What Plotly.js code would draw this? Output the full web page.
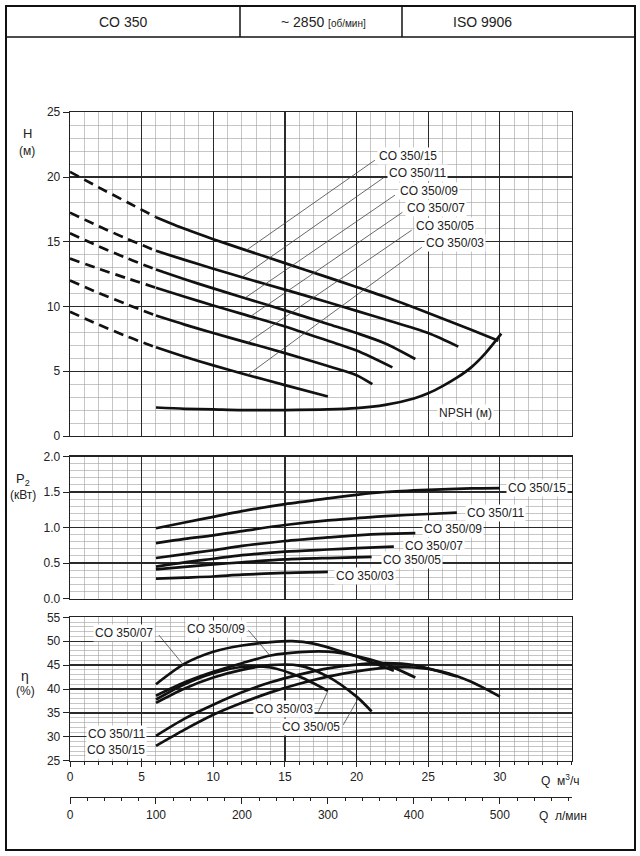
<!DOCTYPE html>
<html><head><meta charset="utf-8">
<script src="https://cdn.plot.ly/plotly-3.0.1.min.js"></script>
<style>html,body{margin:0;padding:0;background:#fff}#chart{width:640px;height:856px}</style>
</head><body><div id="chart"></div>
<script>
// ---------------- DATA ----------------
const models = ['CO 350/15','CO 350/11','CO 350/09','CO 350/07','CO 350/05','CO 350/03'];

// Head H (m) vs Q (m3/h)
const hQ15 = [0,2,4,6,8,10,12,15,18,20,22,25,28,29.9];
const hH15 = [20.4,19.2,18.05,16.9,16.0,15.2,14.45,13.35,12.25,11.5,10.75,9.5,8.2,7.35];
const hQ11 = [0,2,4,6,8,10,12,15,18,20,22,25,27.1];
const hH11 = [17.25,16.2,15.22,14.3,13.6,12.92,12.26,11.3,10.33,9.66,9.0,7.95,6.9];
const hQ09 = [0,2,4,6,8,10,12,15,18,20,22,24.1];
const hH09 = [15.65,14.65,13.72,12.85,12.1,11.4,10.72,9.7,8.65,7.95,7.15,5.95];
const hQ07 = [0,2,4,6,8,10,12,15,18,20,22.5];
const hH07 = [13.7,12.92,12.17,11.45,10.75,10.08,9.43,8.45,7.35,6.6,5.3];
const hQ05 = [0,2,4,6,8,10,12,15,18,20,21.1];
const hH05 = [12.0,11.05,10.15,9.3,8.6,7.95,7.33,6.4,5.4,4.7,4.0];
const hQ03 = [0,2,4,6,8,10,12,15,18];
const hH03 = [9.6,8.6,7.68,6.85,6.12,5.45,4.83,3.93,3.05];
const npshQ = [6,8,10,12,15,18,20,22,24,25,26,27,28,29,30.1];
const npshH = [2.2,2.1,2.05,2.0,2.0,2.05,2.15,2.4,2.9,3.3,3.85,4.5,5.3,6.4,7.9];

// Power P2 (kW)
const pQ15 = [6,8,10,12,15,18,20,22,25,28,30];
const pP15 = [0.99,1.07,1.15,1.23,1.33,1.41,1.46,1.50,1.53,1.55,1.555];
const pQ11 = [6,8,10,12,15,18,20,22,25,27];
const pP11 = [0.78,0.84,0.89,0.95,1.035,1.10,1.13,1.16,1.19,1.21];
const pQ09 = [6,8,10,12,15,18,20,22,24.1];
const pP09 = [0.57,0.625,0.68,0.74,0.81,0.86,0.89,0.91,0.92];
const pQ07 = [6,8,10,12,15,18,20,22.6];
const pP07 = [0.45,0.51,0.56,0.61,0.66,0.69,0.71,0.73];
const pQ05 = [6,8,10,12,15,18,21.05];
const pP05 = [0.41,0.445,0.48,0.51,0.55,0.57,0.585];
const pQ03 = [6,8,10,12,15,18];
const pP03 = [0.28,0.295,0.31,0.335,0.36,0.375];

// Efficiency eta (%)
const eQ15 = [6,8,10,12,14,16,18,20,22,24,26,28,30];
const eE15 = [28.1,31.5,34.6,37.1,39.3,41.1,42.6,43.7,44.4,44.5,43.6,41.5,38.4];
const eQ11 = [6,8,10,12,14,16,18,20,22,24,27];
const eE11 = [30.2,33.8,36.7,39.3,41.4,43.0,44.3,45.1,45.4,45.0,42.6];
const eQ09 = [6,8,10,12,14,16,18,20,22,24.1];
const eE09 = [38.6,41.4,43.6,45.4,47.0,47.7,47.8,46.9,45.2,42.4];
const eQ07 = [6,8,10,12,14,15.5,17,19,20,22.6];
const eE07 = [41.0,45.3,47.8,49.1,49.8,50.0,49.5,47.8,46.8,43.8];
const eQ05 = [6,8,10,12,14,16,18,20,21.05];
const eE05 = [37.1,40.1,42.4,44.0,45.0,44.9,42.6,38.4,35.3];
const eQ03 = [6,8,10,12,14,16,18];
const eE03 = [37.8,41.0,43.3,44.6,44.5,42.6,39.6];

// Tick labels
const qTicks = [0,5,10,15,20,25,30];
const lminTicks = [0,100,200,300,400,500];
const hTicks = [0,5,10,15,20,25];
const pTicks = [0,0.5,1.0,1.5,2.0];
const eTicks = [25,30,35,40,45,50,55];

// ---------------- LAYOUT HELPERS ----------------
const W = 640, Ht = 856;
const fx = p => p / W;
const fy = p => 1 - p / Ht;
const FONT = 'Liberation Sans, Arial, sans-serif';
const TXT = '#222';
const xDom = [fx(70), fx(571.5)];

function interp(xs, ys, x) {
  for (let i = 0; i < xs.length - 1; i++) {
    if (x >= xs[i] && x <= xs[i+1]) {
      const t = (x - xs[i]) / (xs[i+1] - xs[i]);
      return ys[i] + t * (ys[i+1] - ys[i]);
    }
  }
  return ys[ys.length-1];
}

const LW = 2.7;
const traces = [];
const lineCurve = (x, y, xa, ya, dash) => ({
  type: 'scatter', mode: 'lines', x, y, xaxis: xa, yaxis: ya,
  line: {color: '#111', width: LW, shape: 'spline', smoothing: 0.8, dash: dash || 'solid'},
  hoverinfo: 'skip'
});

// H curves (dashed to Q=6, solid after)
const hSets = [[hQ15,hH15],[hQ11,hH11],[hQ09,hH09],[hQ07,hH07],[hQ05,hH05],[hQ03,hH03]];
hSets.forEach(([q,h]) => {
  const dq = [], dh = [], sq = [], sh = [];
  q.forEach((v,i) => { if (v <= 6) { dq.push(v); dh.push(h[i]); } if (v >= 6) { sq.push(v); sh.push(h[i]); } });
  traces.push(lineCurve(dq, dh, 'x3', 'y3', '10px,6px'));
  traces.push(lineCurve(sq, sh, 'x3', 'y3'));
});
traces.push(lineCurve(npshQ, npshH, 'x3', 'y3'));

const pSets = [[pQ15,pP15],[pQ11,pP11],[pQ09,pP09],[pQ07,pP07],[pQ05,pP05],[pQ03,pP03]];
pSets.forEach(([q,p]) => traces.push(lineCurve(q, p, 'x2', 'y2')));

const eSets = [[eQ15,eE15],[eQ11,eE11],[eQ09,eE09],[eQ07,eE07],[eQ05,eE05],[eQ03,eE03]];
eSets.forEach(([q,e]) => traces.push(lineCurve(q, e, 'x', 'y')));

// invisible trace so the l/min axis is drawn
traces.push({type:'scatter', mode:'none', x:[0, 583.33], y:[null, null], xaxis:'x4', yaxis:'y', hoverinfo:'skip'});

// ---------------- AXES ----------------
const MAJ = '#2a2a2a', MIN = '#a0a0a0';
function xAxis(anchor, showLabels) {
  return {
    domain: xDom, range: [0, 35], anchor: anchor,
    showgrid: true, gridcolor: MAJ, gridwidth: 1.2,
    tickvals: qTicks,
    showticklabels: showLabels, ticks: showLabels ? 'outside' : '', ticklen: 5, tickcolor: '#222',
    minor: {dtick: 1, showgrid: true, gridcolor: MIN, gridwidth: 0.6,
            ticks: showLabels ? 'outside' : '', ticklen: 3, tickcolor: '#222'},
    showline: true, linecolor: '#222', linewidth: 1.3, mirror: true,
    zeroline: false, fixedrange: true,
    tickfont: {family: FONT, size: 12, color: TXT}
  };
}
function yAxis(anchor, dom, range, ticks, minorD, fmt) {
  return {
    domain: dom, range: range, anchor: anchor,
    showgrid: true, gridcolor: MAJ, gridwidth: 1.2,
    tickvals: ticks, tickformat: fmt, ticks: 'outside', ticklen: 6, tickcolor: '#222',
    minor: {dtick: minorD, showgrid: true, gridcolor: MIN, gridwidth: 0.6},
    showline: true, linecolor: '#222', linewidth: 1.3, mirror: true,
    zeroline: false, fixedrange: true,
    tickfont: {family: FONT, size: 12, color: TXT}
  };
}

const layout = {
  width: W, height: Ht, margin: {l:0, r:0, t:0, b:0},
  paper_bgcolor: '#fff', plot_bgcolor: '#fff', showlegend: false,
  font: {family: FONT, size: 12, color: TXT},
  xaxis: xAxis('y', true),
  xaxis2: xAxis('y2', false),
  xaxis3: xAxis('y3', false),
  yaxis: yAxis('x', [fy(760.7), fy(617.3)], [25, 55], eTicks, 1, 'd'),
  yaxis2: yAxis('x2', [fy(598.5), fy(456.5)], [0, 2.0], pTicks, 0.1, '.1f'),
  yaxis3: yAxis('x3', [fy(436), fy(112.25)], [0, 25], hTicks, 1, 'd'),
  xaxis4: {
    domain: xDom, range: [0, 583.33], anchor: 'free', position: fy(797), overlaying: 'x',
    showgrid: false, zeroline: false, showline: true, linecolor: '#222', linewidth: 1.3,
    tickvals: lminTicks, ticks: 'outside', ticklen: 6, tickcolor: '#222',
    minor: {dtick: 20, ticks: 'outside', ticklen: 3, tickcolor: '#222', showgrid: false},
    tickfont: {family: FONT, size: 12, color: TXT}, fixedrange: true
  },
  shapes: [], annotations: []
};

// Frame and header
const S = layout.shapes, A = layout.annotations;
const pline = (x0,y0,x1,y1,w) => S.push({type:'line', xref:'paper', yref:'paper',
  x0: fx(x0), y0: fy(y0), x1: fx(x1), y1: fy(y1), line: {color:'#111', width: w}});
S.push({type:'rect', xref:'paper', yref:'paper', x0: fx(6), y0: fy(850), x1: fx(635), y1: fy(6),
  line: {color:'#111', width: 2}});
pline(6, 37, 635, 37, 1.5);
pline(240, 6, 240, 37, 1.5);
pline(402, 6, 402, 37, 1.5);

const ptext = (x, y, text, size, xa) => A.push({xref:'paper', yref:'paper', x: fx(x), y: fy(y),
  text: text, showarrow: false, xanchor: xa || 'center', yanchor: 'middle',
  font: {family: FONT, size: size, color: TXT}});
ptext(123, 22, 'CO 350', 14);
ptext(279, 22, '~ 2850 <span style="font-size:10px">[об/мин]</span>', 14, 'left');
ptext(482, 22, 'ISO 9906', 14);

ptext(27, 133, 'H', 13);
ptext(27, 151, '(м)', 12);
ptext(23, 479, 'P<sub>2</sub>', 13);
ptext(23, 495, '(кВт)', 12);
ptext(25, 676, 'η', 14);
ptext(25, 691, '(%)', 12);
ptext(539, 780, 'Q  м<sup>3</sup>/ч', 12, 'left');
ptext(537, 816, 'Q  л/мин', 12, 'left');

// Labels with leaders
const label = (xa, ya, x, y, text, xanchor) => A.push({xref: xa, yref: ya, x, y, text,
  showarrow: false, xanchor: xanchor || 'left', yanchor: 'middle', bgcolor: '#fff', borderpad: 1,
  font: {family: FONT, size: 12, color: TXT}});
const leader = (xa, ya, x0, y0, x1, y1) => S.push({type:'line', xref: xa, yref: ya, x0, y0, x1, y1,
  line: {color: '#444', width: 0.8}});

// Head chart labels
const hLab = [
  [21.42, 21.6, 21.28, 21.3, 12.3],
  [22.1, 20.3, 21.93, 19.98, 12.0],
  [22.9, 18.94, 22.68, 18.6, 12.2],
  [23.4, 17.58, 23.2, 17.27, 12.6],
  [24.0, 16.2, 23.85, 15.9, 12.4],
  [24.7, 14.9, 24.55, 14.57, 12.4]
];
hLab.forEach((L, i) => {
  const [q, h] = hSets[i];
  leader('x3', 'y3', L[2], L[3], L[4], interp(q, h, L[4]));
});
hLab.forEach((L, i) => label('x3', 'y3', L[0], L[1], models[i]));
label('x3', 'y3', 25.6, 1.75, 'NPSH (м)');

// Power chart labels (right of curve end)
const pLab = [[30.43, 1.55],[27.56, 1.20],[24.6, 0.975],[23.26, 0.74],[21.68, 0.54],[18.44, 0.31]];
pLab.forEach((L, i) => label('x2', 'y2', L[0], L[1], models[i]));

// Efficiency chart labels
leader('x', 'y', 6.2, 51.3, 7.9, interp(eQ07, eE07, 7.9));
leader('x', 'y', 12.45, 52.3, 13.96, interp(eQ09, eE09, 13.96));
leader('x', 'y', 17.33, 35.25, 18.0, interp(eQ03, eE03, 18.0));
leader('x', 'y', 19.07, 32.5, 20.12, interp(eQ05, eE05, 20.12));
label('x', 'y', 5.95, 51.65, models[3], 'right');
label('x', 'y', 8.0, 52.55, models[2], 'left');
label('x', 'y', 5.35, 30.5, models[1], 'right');
label('x', 'y', 5.35, 27.2, models[0], 'right');
label('x', 'y', 17.1, 35.8, models[5], 'right');
label('x', 'y', 18.96, 32.1, models[4], 'right');

Plotly.newPlot('chart', traces, layout, {staticPlot: true, displayModeBar: false});
</script>
</body></html>
